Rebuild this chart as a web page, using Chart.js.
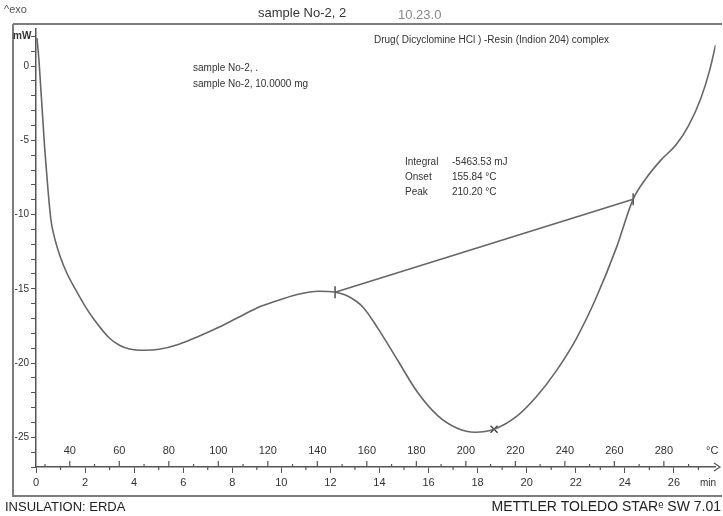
<!DOCTYPE html>
<html>
<head>
<meta charset="utf-8">
<title>DSC - Dicyclomine HCl resin complex</title>
<script src="https://cdn.jsdelivr.net/npm/chart.js@4.4.1/dist/chart.umd.min.js"></script>
<style>
  html, body { margin:0; padding:0; background:#fff; }
  #wrap { position:relative; width:723px; height:516px; }
</style>
</head>
<body>
<div id="wrap"><canvas id="dsc" width="723" height="516"></canvas></div>
<script>
// DSC curve: time (min) vs heat flow (mW)
const timeMin = [0.04, 0.12, 0.20, 0.28, 0.36, 0.49, 0.61, 0.77, 0.97, 1.26, 1.58, 1.98, 2.39, 3.00, 3.40, 3.81,
  4.41, 5.02, 5.83, 6.64, 7.45, 8.26, 9.07, 9.88, 10.69, 11.50, 12.19, 12.72, 13.33, 13.93, 14.74, 15.55,
  16.36, 17.17, 17.90, 18.67, 19.60, 20.41, 21.22, 22.03, 22.84, 23.65, 24.34, 24.87, 25.47, 26.08, 26.61,
  27.10, 27.46, 27.70];
const heatFlow = [1.89, 0.40, -1.62, -3.64, -5.66, -8.36, -10.38, -11.65, -12.75, -13.95, -14.96, -16.11, -17.12, -18.33, -18.80, -19.05,
  -19.14, -19.07, -18.73, -18.19, -17.59, -16.91, -16.24, -15.77, -15.36, -15.16, -15.23, -15.50, -16.24, -17.65, -19.81, -21.97,
  -23.52, -24.39, -24.66, -24.46, -23.58, -22.24, -20.49, -18.33, -15.57, -12.26, -8.96, -7.55, -6.33, -5.32, -3.98,
  -2.16, -0.27, 1.42];

// integration baseline and peak marker
const baselineTime = [12.19, 24.34];
const baselineFlow = [-15.23, -8.96];
const peakTime = [18.67];
const peakFlow = [-24.46];

// axes
const yTicks = [2, 1, 0, -1, -2, -3, -4, -5, -6, -7, -8, -9, -10, -11, -12, -13, -14, -15, -16, -17, -18, -19, -20,
  -21, -22, -23, -24, -25, -26, -27];
const yLabels = [0, -5, -10, -15, -20, -25];
const timeTicks = [0, 2, 4, 6, 8, 10, 12, 14, 16, 18, 20, 22, 24, 26];
const timeMinor = [1, 3, 5, 7, 9, 11, 13, 15, 17, 19, 21, 23, 25, 27];
const tempLabels = [40, 60, 80, 100, 120, 140, 160, 180, 200, 220, 240, 260, 280];
const tempMinor = [30, 50, 70, 90, 110, 130, 150, 170, 190, 210, 230, 250, 270, 290];
const tempStart = 26.35, tempEnd = 300.9;

const FONT = '"Liberation Sans", Arial, sans-serif';
Chart.defaults.font.family = FONT;
Chart.defaults.color = '#333';

const pts = (xs, ys) => xs.map((t, i) => ({ x: t, y: ys[i] }));

const decor = {
  id: 'decor',
  afterDraw(chart) {
    const { ctx, scales: { x, x2, y } } = chart;
    const axisY = y.bottom;
    ctx.save();

    // outer frame
    ctx.strokeStyle = '#7d7d7d'; ctx.lineWidth = 2;
    ctx.beginPath();
    ctx.moveTo(13, 24); ctx.lineTo(722, 24);
    ctx.moveTo(13, 24); ctx.lineTo(13, 496); ctx.lineTo(722, 496);
    ctx.stroke();

    // minor time ticks (down) and temperature ticks (up)
    ctx.strokeStyle = '#555'; ctx.lineWidth = 1.2;
    ctx.beginPath();
    timeMinor.forEach(v => { const px = x.getPixelForValue(v); ctx.moveTo(px, axisY); ctx.lineTo(px, axisY + 3); });
    tempLabels.forEach(v => { const px = x2.getPixelForValue(v); ctx.moveTo(px, axisY); ctx.lineTo(px, axisY - 6); });
    tempMinor.forEach(v => { const px = x2.getPixelForValue(v); ctx.moveTo(px, axisY); ctx.lineTo(px, axisY - 3); });
    // arrow end of axis
    ctx.moveTo(714, axisY - 4); ctx.lineTo(720, axisY); ctx.lineTo(714, axisY + 4);
    ctx.stroke();

    ctx.fillStyle = '#333';
    ctx.textBaseline = 'middle';
    ctx.textAlign = 'center';
    ctx.font = '11px ' + FONT;
    tempLabels.forEach(v => ctx.fillText(String(v), x2.getPixelForValue(v), axisY - 16));

    ctx.textAlign = 'left';
    ctx.fillText('\u00B0C', 706, axisY - 16);
    ctx.font = '10px ' + FONT;
    ctx.fillText('min', 700, axisY + 16);

    // header
    ctx.fillStyle = '#555';
    ctx.font = '11px ' + FONT;
    ctx.fillText('^exo', 4, 10);
    ctx.fillStyle = '#333';
    ctx.font = '13px ' + FONT;
    ctx.fillText('sample No-2, 2', 258, 13);
    ctx.fillStyle = '#888';
    ctx.fillText('10.23.0', 398, 15);

    ctx.fillStyle = '#333';
    ctx.font = 'bold 10px ' + FONT;
    ctx.fillText('mW', 13, 36);

    ctx.font = '10px ' + FONT;
    ctx.fillText('Drug( Dicyclomine HCl ) -Resin (Indion 204) complex', 374, 40);
    ctx.fillText('sample No-2, .', 193, 68);
    ctx.fillText('sample No-2, 10.0000 mg', 193, 84);

    ctx.fillText('Integral', 405, 162);
    ctx.fillText('-5463.53 mJ', 452, 162);
    ctx.fillText('Onset', 405, 177);
    ctx.fillText('155.84 \u00B0C', 452, 177);
    ctx.fillText('Peak', 405, 192);
    ctx.fillText('210.20 \u00B0C', 452, 192);

    // footer
    ctx.fillStyle = '#222';
    ctx.font = '13px ' + FONT;
    ctx.fillText('INSULATION: ERDA', 5, 507);
    ctx.textAlign = 'right';
    ctx.font = '14px ' + FONT;
    ctx.fillText('METTLER TOLEDO STAR\u1D49 SW 7.01', 721, 507);

    ctx.restore();
  }
};

new Chart(document.getElementById('dsc'), {
  type: 'scatter',
  data: {
    datasets: [
      { label: 'sample No-2', data: pts(timeMin, heatFlow), showLine: true, borderColor: '#666',
        borderWidth: 1.6, pointRadius: 0, cubicInterpolationMode: 'monotone', fill: false },
      { label: 'baseline', data: pts(baselineTime, baselineFlow), showLine: true, borderColor: '#666',
        borderWidth: 1.6, pointStyle: 'line', rotation: 90, pointRadius: 6, pointBorderColor: '#444',
        pointBorderWidth: 1.4 },
      { label: 'peak', data: pts(peakTime, peakFlow), showLine: false, pointStyle: 'crossRot',
        pointRadius: 5, pointBorderColor: '#444', pointBorderWidth: 1.4 }
    ]
  },
  options: {
    responsive: false,
    animation: false,
    layout: { padding: { left: 0, top: 29, right: 3, bottom: 19 } },
    plugins: { legend: { display: false }, tooltip: { enabled: false } },
    scales: {
      x: {
        type: 'linear', position: 'bottom', min: 0, max: 27.7,
        afterFit: s => { s.height = 30; },
        afterBuildTicks: s => { s.ticks = timeTicks.map(v => ({ value: v })); },
        border: { display: true, color: '#555', width: 1.5 },
        grid: { drawOnChartArea: false, tickLength: 6, color: '#555' },
        ticks: { font: { size: 11 }, padding: 3, maxRotation: 0, autoSkip: false, color: '#333' }
      },
      x2: { type: 'linear', position: 'bottom', display: false, min: tempStart, max: tempEnd },
      y: {
        type: 'linear', position: 'left', min: -27, max: 2.5,
        afterFit: s => { s.width = 36; },
        afterBuildTicks: s => { s.ticks = yTicks.map(v => ({ value: v })); },
        border: { display: true, color: '#555', width: 1.5 },
        grid: { drawOnChartArea: false, tickLength: 5, color: '#555' },
        ticks: { callback: v => yLabels.includes(v) ? String(v) : '', font: { size: 10 }, padding: 2,
          autoSkip: false, color: '#333' }
      }
    }
  },
  plugins: [decor]
});
</script>
</body>
</html>
